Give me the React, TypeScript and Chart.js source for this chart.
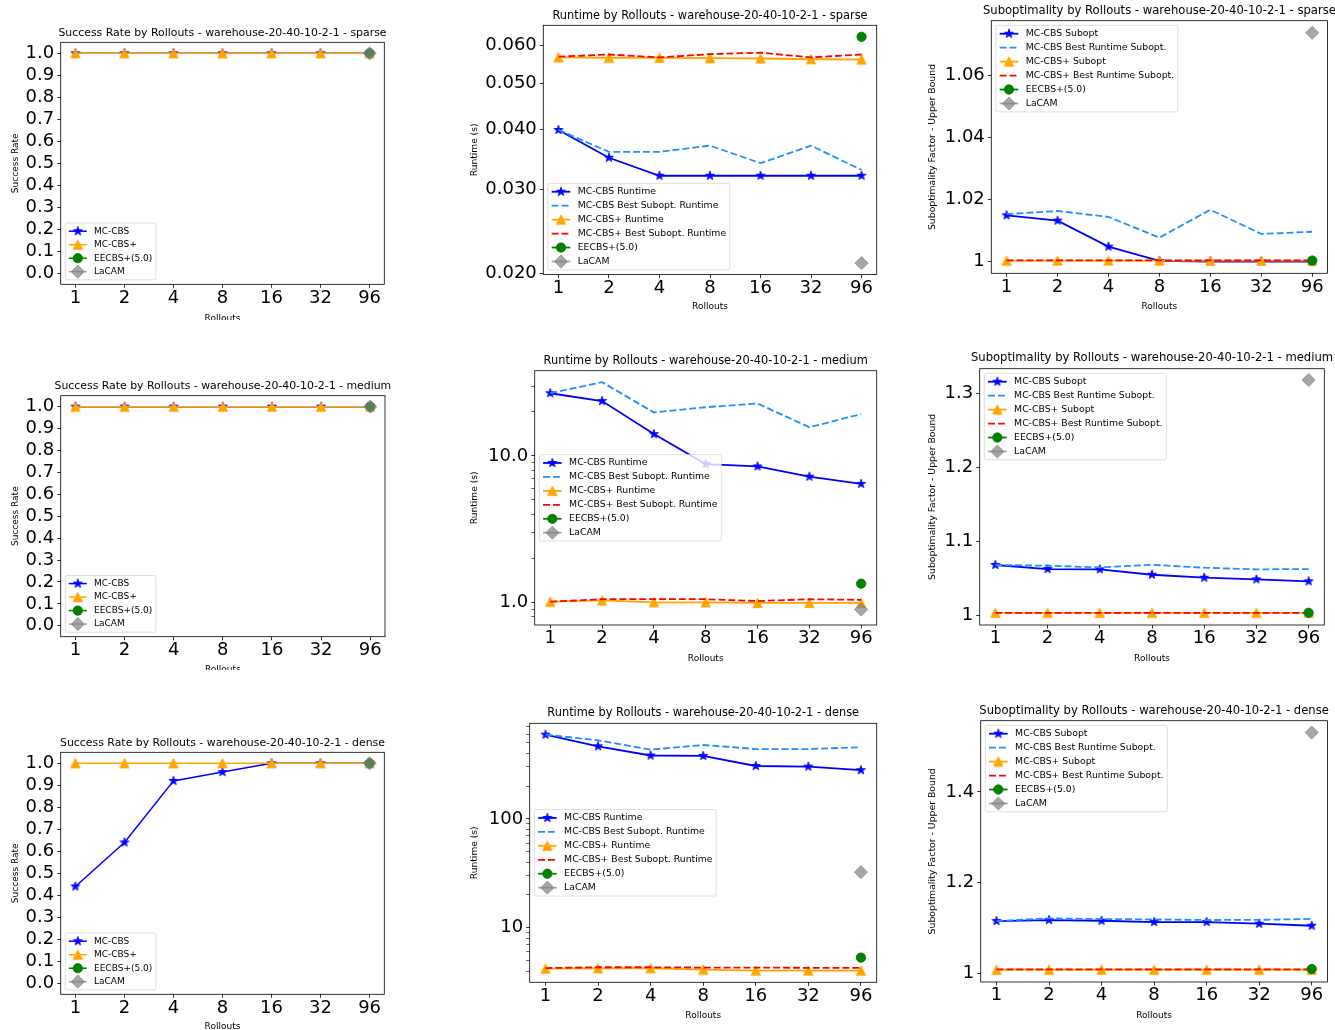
import React, { useEffect, useRef } from 'react';
import { Chart, registerables } from 'chart.js';
import { drawPoint } from 'chart.js/helpers';

Chart.register(...registerables);

const FONT = "'DejaVu Sans', 'Liberation Sans', sans-serif";
Chart.defaults.font.family = FONT;
Chart.defaults.color = '#000';

// ---------------- data ----------------
const rollouts = ['1', '2', '4', '8', '16', '32', '96'];

// Success rate
const successSparseMCCBS = [1.0, 1.0, 1.0, 1.0, 1.0, 1.0, 1.0];
const successSparseMCCBSPlus = [1.0, 1.0, 1.0, 1.0, 1.0, 1.0, 1.0];
const successSparseEECBS = [1.0];
const successSparseLaCAM = [1.0];

const successMediumMCCBS = [1.0, 1.0, 1.0, 1.0, 1.0, 1.0, 1.0];
const successMediumMCCBSPlus = [1.0, 1.0, 1.0, 1.0, 1.0, 1.0, 1.0];
const successMediumEECBS = [1.0];
const successMediumLaCAM = [1.0];

const successDenseMCCBS = [0.44, 0.64, 0.92, 0.96, 1.0, 1.0, 1.0];
const successDenseMCCBSPlus = [1.0, 1.0, 1.0, 1.0, 1.0, 1.0, 1.0];
const successDenseEECBS = [1.0];
const successDenseLaCAM = [1.0];

// Runtime (s)
const runtimeSparseMCCBS = [0.0399, 0.0349, 0.032, 0.032, 0.032, 0.032, 0.032];
const runtimeSparseMCCBSBest = [0.0399, 0.0359, 0.0359, 0.037, 0.034, 0.037, 0.0329];
const runtimeSparseMCCBSPlus = [0.0566, 0.0565, 0.0565, 0.0564, 0.0563, 0.0561, 0.056];
const runtimeSparseMCCBSPlusBest = [0.0568, 0.0574, 0.0566, 0.0575, 0.0579, 0.0566, 0.0574];
const runtimeSparseEECBS = [0.0625];
const runtimeSparseLaCAM = [0.021];

const runtimeMediumMCCBS = [26.8, 23.7, 14.1, 8.79, 8.48, 7.22, 6.44];
const runtimeMediumMCCBSBest = [26.8, 31.9, 19.8, 21.5, 22.8, 15.7, 19.3];
const runtimeMediumMCCBSPlus = [1.01, 1.03, 1.0, 1.0, 0.99, 0.99, 0.99];
const runtimeMediumMCCBSPlusBest = [1.01, 1.05, 1.05, 1.05, 1.02, 1.05, 1.04];
const runtimeMediumEECBS = [1.34];
const runtimeMediumLaCAM = [0.893];

const runtimeDenseMCCBS = [594, 464, 382, 379, 306, 302, 280];
const runtimeDenseMCCBSBest = [594, 527, 433, 477, 438, 438, 455];
const runtimeDenseMCCBSPlus = [4.21, 4.24, 4.24, 4.12, 4.03, 4.03, 4.03];
const runtimeDenseMCCBSPlusBest = [4.26, 4.33, 4.33, 4.3, 4.3, 4.28, 4.28];
const runtimeDenseEECBS = [5.31];
const runtimeDenseLaCAM = [32.4];

// Suboptimality factor
const suboptSparseMCCBS = [1.0148, 1.0131, 1.0047, 1.0001, 0.9999, 0.9999, 0.9999];
const suboptSparseMCCBSBest = [1.0152, 1.0162, 1.0143, 1.0076, 1.0166, 1.0088, 1.0095];
const suboptSparseMCCBSPlus = [1.0002, 1.0002, 1.0002, 1.0002, 1.0002, 1.0002, 1.0002];
const suboptSparseMCCBSPlusBest = [1.0003, 1.0003, 1.0003, 1.0003, 1.0003, 1.0003, 1.0003];
const suboptSparseEECBS = [1.0002];
const suboptSparseLaCAM = [1.0737];

const suboptMediumMCCBS = [1.0677, 1.0622, 1.0618, 1.0545, 1.0505, 1.0483, 1.0456];
const suboptMediumMCCBSBest = [1.0677, 1.0667, 1.0645, 1.068, 1.064, 1.0618, 1.0622];
const suboptMediumMCCBSPlus = [1.003, 1.003, 1.003, 1.003, 1.003, 1.003, 1.003];
const suboptMediumMCCBSPlusBest = [1.003, 1.003, 1.003, 1.003, 1.003, 1.003, 1.003];
const suboptMediumEECBS = [1.003];
const suboptMediumLaCAM = [1.318];

const suboptDenseMCCBS = [1.1154, 1.1176, 1.116, 1.1132, 1.1132, 1.1095, 1.105];
const suboptDenseMCCBSBest = [1.1154, 1.1213, 1.1198, 1.119, 1.1176, 1.118, 1.12];
const suboptDenseMCCBSPlus = [1.008, 1.008, 1.008, 1.008, 1.008, 1.008, 1.008];
const suboptDenseMCCBSPlusBest = [1.009, 1.009, 1.009, 1.009, 1.009, 1.009, 1.009];
const suboptDenseEECBS = [1.0095];
const suboptDenseLaCAM = [1.531];

// Tick values / labels
const successTicks = [0.0, 0.1, 0.2, 0.3, 0.4, 0.5, 0.6, 0.7, 0.8, 0.9, 1.0];
const successTickLabels = ['0.0', '0.1', '0.2', '0.3', '0.4', '0.5', '0.6', '0.7', '0.8', '0.9', '1.0'];
const runtimeSparseTicks = [0.02, 0.03, 0.04, 0.05, 0.06];
const runtimeSparseTickLabels = ['0.020', '0.030', '0.040', '0.050', '0.060'];
const runtimeMediumTicks = [1, 10];
const runtimeMediumTickLabels = ['1.0', '10.0'];
const runtimeMediumMinorTicks = [0.8, 0.9, 2, 3, 4, 5, 6, 7, 8, 9, 20, 30];
const runtimeDenseTicks = [10, 100];
const runtimeDenseTickLabels = ['10', '100'];
const runtimeDenseMinorTicks = [4, 5, 6, 7, 8, 9, 20, 30, 40, 50, 60, 70, 80, 90, 200, 300, 400, 500, 600, 700];
const suboptSparseTicks = [1, 1.02, 1.04, 1.06];
const suboptSparseTickLabels = ['1', '1.02', '1.04', '1.06'];
const suboptMediumTicks = [1, 1.1, 1.2, 1.3];
const suboptMediumTickLabels = ['1', '1.1', '1.2', '1.3'];
const suboptDenseTicks = [1, 1.2, 1.4];
const suboptDenseTickLabels = ['1', '1.2', '1.4'];

// ---------------- styles ----------------
const STYLES: Record<string, { color: string; dash: number[]; marker: string | null }> = {
  mccbs: { color: '#0000ff', dash: [], marker: 'star' },
  mccbsBest: { color: '#1e90ff', dash: [6.9, 3], marker: null },
  plus: { color: '#ffa500', dash: [], marker: 'triangle' },
  plusBest: { color: '#ff0000', dash: [6.9, 3], marker: null },
  eecbs: { color: '#008000', dash: [], marker: 'circle' },
  lacam: { color: 'rgba(128,128,128,0.7)', dash: [], marker: 'diamond' },
};

const MS = 9.3; // marker size px
const MEW = 0.93; // marker edge width

let markerCache: { star: HTMLCanvasElement; tri: HTMLCanvasElement } | null = null;
function getMarkers() {
  if (markerCache) return markerCache;
  const mk = (draw: (g: CanvasRenderingContext2D, c: number) => void) => {
    const size = 14;
    const cv = document.createElement('canvas');
    cv.width = size;
    cv.height = size;
    const g = cv.getContext('2d')!;
    draw(g, size / 2);
    return cv;
  };
  const star = mk((g, c) => {
    const r = MS / 2;
    const inner = r * 0.381966;
    g.beginPath();
    for (let k = 0; k < 10; k++) {
      const ang = -Math.PI / 2 + (k * Math.PI) / 5;
      const rr = k % 2 === 0 ? r : inner;
      const px = c + rr * Math.cos(ang);
      const py = c + rr * Math.sin(ang);
      if (k === 0) g.moveTo(px, py);
      else g.lineTo(px, py);
    }
    g.closePath();
    g.fillStyle = STYLES.mccbs.color;
    g.fill();
    g.lineWidth = MEW;
    g.lineJoin = 'bevel';
    g.strokeStyle = STYLES.mccbs.color;
    g.stroke();
  });
  const tri = mk((g, c) => {
    const h = MS / 2;
    g.beginPath();
    g.moveTo(c, c - h);
    g.lineTo(c - h, c + h);
    g.lineTo(c + h, c + h);
    g.closePath();
    g.fillStyle = STYLES.plus.color;
    g.fill();
    g.lineWidth = MEW;
    g.lineJoin = 'miter';
    g.strokeStyle = STYLES.plus.color;
    g.stroke();
  });
  markerCache = { star, tri };
  return markerCache;
}

// ---------------- plugins ----------------
const framePlugin = {
  id: 'mplFrame',
  afterDatasetsDraw(chart: any) {
    const { ctx, chartArea: a } = chart;
    ctx.save();
    ctx.strokeStyle = '#000';
    ctx.lineWidth = 0.8;
    ctx.strokeRect(a.left, a.top, a.right - a.left, a.bottom - a.top);
    ctx.restore();
  },
};

const widenTitlePlugin = {
  id: 'widenTitle',
  afterLayout(chart: any) {
    const t = chart.titleBlock;
    if (t) {
      t.left -= 150;
      t.right += 150;
      t.width += 300;
    }
  },
};

const legendPlugin = {
  id: 'mplLegend',
  afterDraw(chart: any, _args: any, opts: any) {
    if (!opts || !opts.loc) return;
    const { ctx, chartArea: a } = chart;
    const fs: number = opts.fontSize;
    const dss: any[] = chart.data.datasets;
    ctx.save();
    ctx.font = `${fs}px ${FONT}`;
    let tw = 0;
    dss.forEach((d) => {
      tw = Math.max(tw, ctx.measureText(d.label).width);
    });
    const pad = 0.4 * fs;
    const hl = 2 * fs;
    const htp = 0.8 * fs;
    const ls = 0.5 * fs;
    const axp = 0.5 * fs;
    const rh = fs;
    const n = dss.length;
    const w = 2 * pad + hl + htp + tw;
    const h = 2 * pad + n * rh + (n - 1) * ls;
    const x = a.left + axp;
    let y: number;
    if (opts.loc === 'upper left') y = a.top + axp;
    else if (opts.loc === 'lower left') y = a.bottom - axp - h;
    else y = (a.top + a.bottom) / 2 - h / 2;
    ctx.beginPath();
    if (ctx.roundRect) ctx.roundRect(x, y, w, h, 0.2 * fs);
    else ctx.rect(x, y, w, h);
    ctx.fillStyle = 'rgba(255,255,255,0.8)';
    ctx.fill();
    ctx.lineWidth = 0.8;
    ctx.strokeStyle = 'rgba(204,204,204,0.8)';
    ctx.stroke();
    dss.forEach((d, i) => {
      const cy = y + pad + rh / 2 + i * (rh + ls);
      const x0 = x + pad;
      ctx.save();
      ctx.beginPath();
      ctx.setLineDash(d.borderDash || []);
      ctx.lineWidth = d.borderWidth;
      ctx.strokeStyle = d.borderColor;
      ctx.moveTo(x0, cy);
      ctx.lineTo(x0 + hl, cy);
      ctx.stroke();
      ctx.setLineDash([]);
      if (d.pointRadius > 0) {
        ctx.fillStyle = d.pointBackgroundColor;
        ctx.strokeStyle = d.pointBorderColor;
        ctx.lineWidth = d.pointBorderWidth;
        drawPoint(
          ctx,
          { pointStyle: d.pointStyle, radius: d.pointRadius, rotation: 0, borderWidth: d.pointBorderWidth } as any,
          x0 + hl / 2,
          cy
        );
      }
      ctx.restore();
      ctx.fillStyle = '#000';
      ctx.textBaseline = 'middle';
      ctx.textAlign = 'left';
      ctx.fillText(d.label, x0 + hl + htp, cy);
    });
    ctx.restore();
  },
};

// ---------------- specs ----------------
type Series = { label: string; values: number[]; style: string; single?: boolean };
type Spec = {
  title: string;
  titleSize: number;
  yTitle: string;
  canvas: [number, number, number, number];
  area: [number, number, number, number];
  titleY: number;
  xTitleY: number;
  yTitleX: number;
  yType: 'linear' | 'logarithmic';
  yMin: number;
  yMax: number;
  ticks: number[];
  labels: string[];
  minor?: number[];
  legendLoc: string;
  legendFont: number;
  axisFont: number;
  lw: number;
  series: Series[];
};

const MAP = 'warehouse-20-40-10-2-1';

const successSeries = (a: number[], b: number[], c: number[], d: number[]): Series[] => [
  { label: 'MC-CBS', values: a, style: 'mccbs' },
  { label: 'MC-CBS+', values: b, style: 'plus' },
  { label: 'EECBS+(5.0)', values: c, style: 'eecbs', single: true },
  { label: 'LaCAM', values: d, style: 'lacam', single: true },
];
const runtimeSeries = (a: number[], b: number[], c: number[], d: number[], e: number[], f: number[]): Series[] => [
  { label: 'MC-CBS Runtime', values: a, style: 'mccbs' },
  { label: 'MC-CBS Best Subopt. Runtime', values: b, style: 'mccbsBest' },
  { label: 'MC-CBS+ Runtime', values: c, style: 'plus' },
  { label: 'MC-CBS+ Best Subopt. Runtime', values: d, style: 'plusBest' },
  { label: 'EECBS+(5.0)', values: e, style: 'eecbs', single: true },
  { label: 'LaCAM', values: f, style: 'lacam', single: true },
];
const suboptSeries = (a: number[], b: number[], c: number[], d: number[], e: number[], f: number[]): Series[] => [
  { label: 'MC-CBS Subopt', values: a, style: 'mccbs' },
  { label: 'MC-CBS Best Runtime Subopt.', values: b, style: 'mccbsBest' },
  { label: 'MC-CBS+ Subopt', values: c, style: 'plus' },
  { label: 'MC-CBS+ Best Runtime Subopt.', values: d, style: 'plusBest' },
  { label: 'EECBS+(5.0)', values: e, style: 'eecbs', single: true },
  { label: 'LaCAM', values: f, style: 'lacam', single: true },
];

const successCommon = {
  titleSize: 10.9,
  yTitle: 'Success Rate',
  yType: 'linear' as const,
  yMin: -0.05,
  yMax: 1.05,
  ticks: successTicks,
  labels: successTickLabels,
  legendLoc: 'lower left',
  legendFont: 9,
  axisFont: 9,
  lw: 1.5,
  yTitleX: 15.7,
};
const runtimeCommon = {
  titleSize: 11.4,
  yTitle: 'Runtime (s)',
  yType: 'logarithmic' as const,
  legendFont: 9.3,
  axisFont: 9.1,
  lw: 1.8,
  yTitleX: 475,
};
const suboptCommon = {
  titleSize: 11.6,
  yTitle: 'Suboptimality Factor - Upper Bound',
  yType: 'linear' as const,
  legendLoc: 'upper left',
  legendFont: 9.3,
  axisFont: 9.3,
  lw: 1.8,
  yTitleX: 932.3,
};

const SPECS: Spec[] = [
  {
    ...successCommon,
    title: `Success Rate by Rollouts - ${MAP} - sparse`,
    canvas: [0, 0, 400, 320],
    area: [60.7, 42.3, 384.3, 284.3],
    titleY: 33.3,
    xTitleY: 318.6,
    series: successSeries(successSparseMCCBS, successSparseMCCBSPlus, successSparseEECBS, successSparseLaCAM),
  },
  {
    ...successCommon,
    title: `Success Rate by Rollouts - ${MAP} - medium`,
    canvas: [0, 350, 400, 320],
    area: [60.7, 395.7, 385, 636.7],
    titleY: 385.7,
    xTitleY: 669.2,
    series: successSeries(successMediumMCCBS, successMediumMCCBSPlus, successMediumEECBS, successMediumLaCAM),
  },
  {
    ...successCommon,
    title: `Success Rate by Rollouts - ${MAP} - dense`,
    canvas: [0, 700, 400, 329],
    area: [60.7, 752.3, 384.3, 994.3],
    titleY: 743.3,
    xTitleY: 1027,
    series: successSeries(successDenseMCCBS, successDenseMCCBSPlus, successDenseEECBS, successDenseLaCAM),
  },
  {
    ...runtimeCommon,
    title: `Runtime by Rollouts - ${MAP} - sparse`,
    canvas: [445, 0, 445, 330],
    area: [543.3, 25.3, 876.7, 274.5],
    titleY: 15.7,
    xTitleY: 306.7,
    yMin: 0.01988,
    yMax: 0.06607,
    ticks: runtimeSparseTicks,
    labels: runtimeSparseTickLabels,
    legendLoc: 'lower left',
    series: runtimeSeries(
      runtimeSparseMCCBS,
      runtimeSparseMCCBSBest,
      runtimeSparseMCCBSPlus,
      runtimeSparseMCCBSPlusBest,
      runtimeSparseEECBS,
      runtimeSparseLaCAM
    ),
  },
  {
    ...runtimeCommon,
    title: `Runtime by Rollouts - ${MAP} - medium`,
    canvas: [445, 345, 445, 335],
    area: [534.7, 370.7, 876.7, 625],
    titleY: 361,
    xTitleY: 658.3,
    yMin: 0.745,
    yMax: 38.2,
    ticks: runtimeMediumTicks,
    labels: runtimeMediumTickLabels,
    minor: runtimeMediumMinorTicks,
    legendLoc: 'center left',
    series: runtimeSeries(
      runtimeMediumMCCBS,
      runtimeMediumMCCBSBest,
      runtimeMediumMCCBSPlus,
      runtimeMediumMCCBSPlusBest,
      runtimeMediumEECBS,
      runtimeMediumLaCAM
    ),
  },
  {
    ...runtimeCommon,
    title: `Runtime by Rollouts - ${MAP} - dense`,
    canvas: [445, 695, 445, 335],
    area: [529.7, 723.3, 876.7, 982.3],
    titleY: 713.3,
    xTitleY: 1016,
    yMin: 3.15,
    yMax: 755,
    ticks: runtimeDenseTicks,
    labels: runtimeDenseTickLabels,
    minor: runtimeDenseMinorTicks,
    legendLoc: 'center left',
    series: runtimeSeries(
      runtimeDenseMCCBS,
      runtimeDenseMCCBSBest,
      runtimeDenseMCCBSPlus,
      runtimeDenseMCCBSPlusBest,
      runtimeDenseEECBS,
      runtimeDenseLaCAM
    ),
  },
  {
    ...suboptCommon,
    title: `Suboptimality by Rollouts - ${MAP} - sparse`,
    canvas: [890, 0, 445, 330],
    area: [991.3, 20.7, 1329.3, 273.3],
    titleY: 11,
    xTitleY: 306.3,
    yMin: 0.9961,
    yMax: 1.0776,
    ticks: suboptSparseTicks,
    labels: suboptSparseTickLabels,
    series: suboptSeries(
      suboptSparseMCCBS,
      suboptSparseMCCBSBest,
      suboptSparseMCCBSPlus,
      suboptSparseMCCBSPlusBest,
      suboptSparseEECBS,
      suboptSparseLaCAM
    ),
  },
  {
    ...suboptCommon,
    title: `Suboptimality by Rollouts - ${MAP} - medium`,
    canvas: [890, 345, 445, 335],
    area: [979.7, 368.7, 1324.3, 625],
    titleY: 358.3,
    xTitleY: 658.3,
    yMin: 0.9865,
    yMax: 1.3333,
    ticks: suboptMediumTicks,
    labels: suboptMediumTickLabels,
    series: suboptSeries(
      suboptMediumMCCBS,
      suboptMediumMCCBSBest,
      suboptMediumMCCBSPlus,
      suboptMediumMCCBSPlusBest,
      suboptMediumEECBS,
      suboptMediumLaCAM
    ),
  },
  {
    ...suboptCommon,
    title: `Suboptimality by Rollouts - ${MAP} - dense`,
    canvas: [890, 695, 445, 335],
    area: [980.7, 720.7, 1330, 982],
    titleY: 710.7,
    xTitleY: 1016,
    yMin: 0.981,
    yMax: 1.557,
    ticks: suboptDenseTicks,
    labels: suboptDenseTickLabels,
    series: suboptSeries(
      suboptDenseMCCBS,
      suboptDenseMCCBSBest,
      suboptDenseMCCBSPlus,
      suboptDenseMCCBSPlusBest,
      suboptDenseEECBS,
      suboptDenseLaCAM
    ),
  },
];

// ---------------- chart builder ----------------
const TICK_SIZE = 18;

function buildDataset(s: Series, idx: number, lw: number) {
  const st = STYLES[s.style];
  const mk = getMarkers();
  const last = rollouts.length - 1;
  const data = s.single ? s.values.map((y) => ({ x: last, y })) : s.values.map((y, i) => ({ x: i, y }));
  let pointStyle: any = 'circle';
  let pointRadius = 0;
  let pbw = 0;
  if (st.marker === 'star') {
    pointStyle = mk.star;
    pointRadius = 4;
  } else if (st.marker === 'triangle') {
    pointStyle = mk.tri;
    pointRadius = 4;
  } else if (st.marker === 'circle') {
    pointStyle = 'circle';
    pointRadius = MS / 2;
    pbw = MEW;
  } else if (st.marker === 'diamond') {
    pointStyle = 'rectRot';
    pointRadius = MS / Math.SQRT2;
    pbw = MEW;
  }
  return {
    type: 'line',
    label: s.label,
    data,
    borderColor: st.color,
    backgroundColor: st.color,
    borderWidth: lw,
    borderDash: st.dash,
    pointStyle,
    pointRadius,
    pointHoverRadius: pointRadius,
    pointBackgroundColor: st.color,
    pointBorderColor: st.color,
    pointBorderWidth: pbw,
    tension: 0,
    fill: false,
    order: 20 - idx,
  };
}

function buildConfig(spec: Spec): any {
  const [cl, ct, cw, ch] = spec.canvas;
  const [l, t, r, b] = spec.area;
  const titleLH = spec.titleSize * 1.2;
  const titlePadTop = spec.titleY - ct - titleLH / 2;
  const titlePadBottom = t - ct - titlePadTop - titleLH;
  const yAxisW = l - cl;
  const xAxisH = ct + ch - b;
  const padRight = cl + cw - r;
  const xLH = 9 * 1.2;
  const yLH = spec.axisFont * 1.2;
  const xTitlePad = ct + ch - spec.xTitleY - xLH / 2;
  const yTitlePad = spec.yTitleX - cl - yLH / 2;

  const yTickList = spec.ticks
    .map((v, i) => ({ v, label: spec.labels[i] }))
    .concat((spec.minor || []).map((v) => ({ v, label: '' })))
    .sort((p, q) => p.v - q.v);

  return {
    type: 'line',
    data: { datasets: spec.series.map((s, i) => buildDataset(s, i, spec.lw)) },
    options: {
      responsive: false,
      animation: false,
      devicePixelRatio: 1,
      events: [],
      layout: { padding: { left: 0, top: 0, right: padRight, bottom: 0 } },
      plugins: {
        legend: { display: false },
        tooltip: { enabled: false },
        title: {
          display: true,
          text: spec.title,
          fullSize: false,
          color: '#000',
          font: { size: spec.titleSize, weight: 'normal', family: FONT },
          padding: { top: titlePadTop, bottom: titlePadBottom },
        },
        mplLegend: { loc: spec.legendLoc, fontSize: spec.legendFont },
      },
      scales: {
        x: {
          type: 'linear',
          min: -0.3,
          max: 6.3,
          afterBuildTicks: (axis: any) => {
            axis.ticks = rollouts.map((_, i) => ({ value: i }));
          },
          afterFit: (axis: any) => {
            axis.height = xAxisH;
          },
          ticks: {
            callback: (_v: any, i: number) => rollouts[i],
            font: { size: TICK_SIZE, family: FONT },
            color: '#000',
            padding: -0.6,
            autoSkip: false,
            maxRotation: 0,
            minRotation: 0,
          },
          grid: { display: true, drawOnChartArea: false, drawTicks: true, tickLength: 3.5, tickColor: '#000', tickWidth: 0.8 },
          border: { display: false },
          title: {
            display: true,
            text: 'Rollouts',
            color: '#000',
            font: { size: 9, family: FONT },
            padding: { top: 0, bottom: xTitlePad },
          },
        },
        y: {
          type: spec.yType,
          position: 'left',
          min: spec.yMin,
          max: spec.yMax,
          afterBuildTicks: (axis: any) => {
            axis.ticks = yTickList.map((p) => ({ value: p.v }));
          },
          afterFit: (axis: any) => {
            axis.width = yAxisW;
          },
          ticks: {
            callback: (_v: any, i: number) => (yTickList[i] ? yTickList[i].label : ''),
            font: { size: TICK_SIZE, family: FONT },
            color: '#000',
            padding: 3,
            autoSkip: false,
          },
          grid: {
            display: true,
            drawOnChartArea: false,
            drawTicks: true,
            tickLength: 3.5,
            tickColor: '#000',
            tickWidth: (ctx: any) => (yTickList[ctx.index] && yTickList[ctx.index].label === '' ? 0.6 : 0.8),
          },
          border: { display: false },
          title: {
            display: true,
            text: spec.yTitle,
            color: '#000',
            font: { size: spec.axisFont, family: FONT },
            padding: { top: yTitlePad, bottom: 0 },
          },
        },
      },
    },
    plugins: [widenTitlePlugin, framePlugin, legendPlugin],
  };
}

function MplChart({ spec }: { spec: Spec }) {
  const ref = useRef<HTMLCanvasElement>(null);
  useEffect(() => {
    if (!ref.current) return;
    const chart = new Chart(ref.current, buildConfig(spec));
    return () => chart.destroy();
  }, [spec]);
  const [cl, ct, cw, ch] = spec.canvas;
  return (
    <canvas
      ref={ref}
      width={cw}
      height={ch}
      style={{ position: 'absolute', left: cl, top: ct, width: cw, height: ch }}
    />
  );
}

export default function App() {
  return (
    <div
      style={{
        position: 'absolute',
        left: 0,
        top: 0,
        width: 1335,
        height: 1030,
        background: '#fff',
        overflow: 'hidden',
      }}
    >
      {SPECS.map((s, i) => (
        <MplChart key={i} spec={s} />
      ))}
    </div>
  );
}
